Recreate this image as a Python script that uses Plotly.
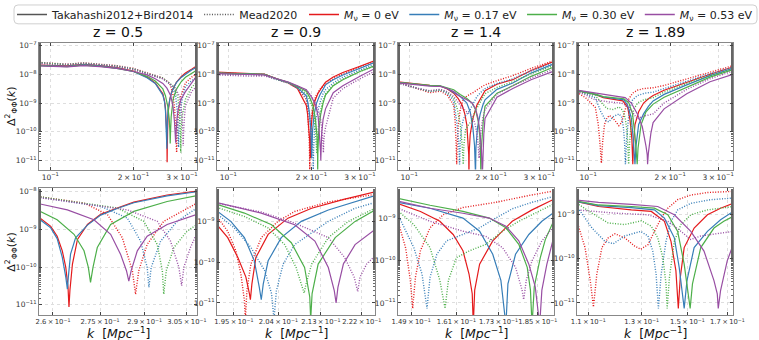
import math
import plotly.graph_objects as go
from plotly.subplots import make_subplots

# redshift panels and neutrino masses
REDSHIFTS = ["0.5", "0.9", "1.4", "1.89"]
MASSES = ["0", "0.17", "0.30", "0.53"]
COLORS = ["#e41a1c", "#377eb8", "#4daf4a", "#984ea3"]

# ---- z = 0.5 ----  (one sub-list per neutrino mass: 0, 0.17, 0.30, 0.53 eV)
k_z05_tak = [
    [0.091, 0.105, 0.115, 0.132, 0.151, 0.174, 0.200, 0.224, 0.240, 0.2557, 0.2593, 0.2613, 0.2629, 0.2640, 0.2647,
     0.2650, 0.2653, 0.2661, 0.2677, 0.2709, 0.2752, 0.2807, 0.2863, 0.2979, 0.3087, 0.325, 0.340],
    [0.091, 0.105, 0.115, 0.132, 0.151, 0.174, 0.200, 0.224, 0.240, 0.2557, 0.2593, 0.2613, 0.2629, 0.2640, 0.2645,
     0.2648, 0.2655, 0.2671, 0.2709, 0.2752, 0.2807, 0.2863, 0.2979, 0.3087, 0.325, 0.340],
    [0.091, 0.105, 0.115, 0.132, 0.151, 0.174, 0.200, 0.224, 0.240, 0.2557, 0.2613, 0.2666, 0.2698, 0.2712, 0.2719,
     0.2727, 0.2741, 0.2785, 0.2863, 0.2979, 0.3087, 0.325, 0.340],
    [0.091, 0.105, 0.115, 0.132, 0.151, 0.174, 0.200, 0.224, 0.240, 0.2557, 0.2645, 0.2730, 0.2785, 0.2818, 0.2838,
     0.2846, 0.2854, 0.2875, 0.2909, 0.2979, 0.3087, 0.325, 0.340],
]
d_z05_tak = [
    [2.1e-8, 2.0e-8, 1.95e-8, 2.2e-8, 2.0e-8, 1.7e-8, 1.3e-8, 8.0e-9, 5.0e-9, 2.1e-9, 1.2e-9, 6.6e-10, 2.7e-10, 9.8e-11,
     2.9e-11, 8.7e-12, 2.4e-11, 1.2e-10, 5.4e-10, 1.35e-9, 2.5e-9, 3.7e-9, 5.3e-9, 8.2e-9, 1.11e-8, 1.5e-8, 2.0e-8],
    [2.05e-8, 1.95e-8, 1.9e-8, 2.15e-8, 1.95e-8, 1.65e-8, 1.25e-8, 7.6e-9, 4.8e-9, 1.9e-9, 1.1e-9, 5.7e-10, 1.8e-10,
     5.4e-11, 2.6e-11, 5.4e-11, 2.2e-10, 6.0e-10, 1.3e-9, 2.4e-9, 3.6e-9, 5.1e-9, 7.8e-9, 1.0e-8, 1.4e-8, 1.8e-8],
    [2.0e-8, 1.9e-8, 1.85e-8, 2.1e-8, 1.9e-8, 1.6e-8, 1.25e-8, 8.5e-9, 5.8e-9, 3.1e-9, 1.8e-9, 7.4e-10, 2.7e-10, 9.8e-11,
     3.9e-11, 9.8e-11, 3.3e-10, 1.35e-9, 3.0e-9, 5.5e-9, 7.9e-9, 1.1e-8, 1.4e-8],
    [1.95e-8, 1.85e-8, 1.8e-8, 2.0e-8, 1.85e-8, 1.6e-8, 1.25e-8, 9.5e-9, 7.0e-9, 4.8e-9, 3.3e-9, 1.8e-9, 7.4e-10, 2.2e-10,
     8.0e-11, 4.2e-11, 8.0e-11, 2.7e-10, 6.6e-10, 1.35e-9, 2.5e-9, 5.0e-9, 9.0e-9],
]
k_z05_mead = [
    [0.091, 0.105, 0.115, 0.132, 0.151, 0.174, 0.200, 0.224, 0.240, 0.2557, 0.2698, 0.2774, 0.2824, 0.2858, 0.2869,
     0.2880, 0.2909, 0.2967, 0.3087, 0.325, 0.340],
    [0.091, 0.105, 0.115, 0.132, 0.151, 0.174, 0.200, 0.224, 0.240, 0.2557, 0.2752, 0.2841, 0.2886, 0.2909, 0.2915,
     0.2923, 0.2956, 0.3015, 0.3087, 0.325, 0.340],
    [0.091, 0.105, 0.115, 0.132, 0.151, 0.174, 0.200, 0.224, 0.240, 0.2557, 0.2807, 0.2897, 0.2944, 0.2962, 0.2967,
     0.2976, 0.3003, 0.3051, 0.3087, 0.325, 0.340],
    [0.091, 0.105, 0.115, 0.132, 0.151, 0.174, 0.200, 0.224, 0.240, 0.2557, 0.2841, 0.2944, 0.2991, 0.3021, 0.3031,
     0.3039, 0.3063, 0.3087, 0.325, 0.340],
]
d_z05_mead = [
    [2.6e-8, 2.3e-8, 2.25e-8, 2.5e-8, 2.3e-8, 2.0e-8, 1.6e-8, 1.15e-8, 9.0e-9, 7.4e-9, 5.0e-9, 2.5e-9, 6.0e-10, 8.0e-11,
     1.9e-11, 8.0e-11, 4.0e-10, 1.64e-9, 5.0e-9, 8.0e-9, 1.05e-8],
    [2.55e-8, 2.25e-8, 2.2e-8, 2.45e-8, 2.25e-8, 1.95e-8, 1.55e-8, 1.1e-8, 8.8e-9, 7.2e-9, 4.1e-9, 2.0e-9, 4.9e-10,
     9.8e-11, 2.9e-11, 9.8e-11, 4.9e-10, 1.64e-9, 3.7e-9, 6.0e-9, 8.0e-9],
    [2.5e-8, 2.2e-8, 2.15e-8, 2.4e-8, 2.2e-8, 1.9e-8, 1.5e-8, 1.05e-8, 8.6e-9, 7.4e-9, 3.7e-9, 1.64e-9, 4.0e-10, 8.0e-11,
     1.9e-11, 8.0e-11, 3.3e-10, 9.0e-10, 1.35e-9, 3.5e-9, 5.5e-9],
    [2.4e-8, 2.1e-8, 2.05e-8, 2.3e-8, 2.1e-8, 1.85e-8, 1.45e-8, 1.0e-8, 8.4e-9, 7.0e-9, 3.3e-9, 1.64e-9, 4.9e-10, 9.8e-11,
     3.2e-11, 9.8e-11, 3.3e-10, 8.1e-10, 2.5e-9, 4.0e-9],
]

# ---- z = 0.9 ----
k_z09_tak = [
    [0.091, 0.105, 0.120, 0.135, 0.150, 0.165, 0.178, 0.1917, 0.1938, 0.1958, 0.1974, 0.1981, 0.1983, 0.1986, 0.1994,
     0.2019, 0.2060, 0.2110, 0.2182, 0.2250, 0.240, 0.260, 0.300, 0.340],
    [0.091, 0.105, 0.120, 0.135, 0.150, 0.165, 0.178, 0.1917, 0.1944, 0.1971, 0.1991, 0.2001, 0.2005, 0.2009, 0.2019,
     0.2046, 0.2088, 0.2146, 0.2250, 0.240, 0.260, 0.300, 0.340],
    [0.091, 0.105, 0.120, 0.135, 0.150, 0.165, 0.178, 0.1917, 0.1971, 0.2026, 0.2067, 0.2095, 0.2106, 0.2108, 0.2111,
     0.2124, 0.2161, 0.2205, 0.2250, 0.240, 0.260, 0.300, 0.340],
    [0.091, 0.105, 0.120, 0.135, 0.150, 0.165, 0.178, 0.1917, 0.2005, 0.2074, 0.2117, 0.2146, 0.2159, 0.2163, 0.2167,
     0.2179, 0.2205, 0.2250, 0.240, 0.260, 0.300, 0.340],
]
d_z09_tak = [
    [1.2e-8, 1.1e-8, 1.05e-8, 1.02e-8, 6.8e-9, 5.0e-9, 3.2e-9, 8.3e-10, 4.0e-10, 1.3e-10, 4.3e-11, 1.7e-11, 1.2e-11,
     2.9e-11, 1.3e-10, 4.8e-10, 1.2e-9, 2.1e-9, 3.5e-9, 5.3e-9, 8.0e-9, 1.15e-8, 1.9e-8, 3.0e-8],
    [1.1e-8, 1.05e-8, 1.0e-8, 1.0e-8, 6.8e-9, 5.1e-9, 3.5e-9, 1.8e-9, 1.0e-9, 4.0e-10, 1.08e-10, 2.4e-11, 1.2e-11, 2.9e-11,
     1.08e-10, 4.0e-10, 1.0e-9, 1.9e-9, 4.3e-9, 6.5e-9, 9.5e-9, 1.65e-8, 2.6e-8],
    [1.1e-8, 1.05e-8, 1.0e-8, 1.0e-8, 7.0e-9, 5.3e-9, 3.8e-9, 2.6e-9, 1.6e-9, 8.3e-10, 3.0e-10, 7.4e-11, 1.4e-11, 4e-12,
     1.7e-11, 9.0e-11, 4.0e-10, 1.0e-9, 1.9e-9, 4.0e-9, 6.5e-9, 1.25e-8, 2.0e-8],
    [1.05e-8, 1.0e-8, 9.5e-9, 9.6e-9, 7.0e-9, 5.4e-9, 4.0e-9, 2.9e-9, 1.6e-9, 8.3e-10, 3.3e-10, 7.4e-11, 2.0e-11, 1.0e-11,
     2.4e-11, 9.0e-11, 2.7e-10, 6.3e-10, 2.3e-9, 4.0e-9, 8.5e-9, 1.6e-8],
]
k_z09_mead = [
    [0.091, 0.105, 0.120, 0.135, 0.150, 0.165, 0.178, 0.1917, 0.1938, 0.1954, 0.1964, 0.1971, 0.1973, 0.1976, 0.1984,
     0.2005, 0.2039, 0.2074, 0.2146, 0.2250, 0.240, 0.260, 0.300, 0.340],
    [0.091, 0.105, 0.120, 0.135, 0.150, 0.165, 0.178, 0.1917, 0.1951, 0.1984, 0.2012, 0.2026, 0.2031, 0.2036, 0.2050,
     0.2074, 0.2146, 0.2205, 0.2250, 0.240, 0.260, 0.300, 0.340],
    [0.091, 0.105, 0.120, 0.135, 0.150, 0.165, 0.178, 0.1917, 0.1971, 0.2019, 0.2053, 0.2077, 0.2089, 0.2094, 0.2098,
     0.2110, 0.2146, 0.2190, 0.2250, 0.240, 0.260, 0.300, 0.340],
    [0.091, 0.105, 0.120, 0.135, 0.150, 0.165, 0.178, 0.1917, 0.2005, 0.2074, 0.2146, 0.2182, 0.2203, 0.2211, 0.2216,
     0.2231, 0.2250, 0.240, 0.260, 0.300, 0.340],
]
d_z09_mead = [
    [1.15e-8, 1.05e-8, 1.0e-8, 9.8e-9, 6.6e-9, 4.9e-9, 3.3e-9, 1.32e-9, 5.7e-10, 1.9e-10, 5.1e-11, 1.16e-11, 4e-12,
     2.0e-11, 9.0e-11, 4.0e-10, 1.0e-9, 1.75e-9, 3.0e-9, 4.6e-9, 7.0e-9, 1.05e-8, 1.8e-8, 2.8e-8],
    [1.05e-8, 1.0e-8, 9.5e-9, 9.5e-9, 6.5e-9, 5.0e-9, 3.4e-9, 1.53e-9, 6.9e-10, 2.3e-10, 6.2e-11, 1.7e-11, 4e-12, 2.0e-11,
     9.0e-11, 2.7e-10, 1.0e-9, 2.1e-9, 2.9e-9, 5.0e-9, 8.0e-9, 1.45e-8, 2.3e-8],
    [1.05e-8, 1.0e-8, 9.5e-9, 9.5e-9, 6.6e-9, 5.1e-9, 3.6e-9, 2.2e-9, 1.32e-9, 6.9e-10, 2.7e-10, 7.4e-11, 2.4e-11,
     1.75e-11, 2.9e-11, 9.0e-11, 4.0e-10, 1.0e-9, 2.1e-9, 4.2e-9, 6.8e-9, 1.25e-8, 1.95e-8],
    [9.5e-9, 9.0e-9, 8.6e-9, 8.8e-9, 6.5e-9, 5.2e-9, 3.9e-9, 2.8e-9, 1.7e-9, 9.1e-10, 4.0e-10, 1.3e-10, 4.3e-11, 1.9e-11,
     4.3e-11, 9.0e-11, 1.42e-10, 1.5e-9, 3.2e-9, 7.0e-9, 1.3e-8],
]

# ---- z = 1.4 ----
k_z14_tak = [
    [0.091, 0.098, 0.106, 0.119, 0.130, 0.138, 0.1457, 0.1514, 0.1565, 0.1601, 0.1628, 0.1645, 0.1654, 0.1657, 0.1661,
     0.1675, 0.1713, 0.1771, 0.1832, 0.1898, 0.210, 0.240, 0.280, 0.340],
    [0.091, 0.098, 0.106, 0.119, 0.130, 0.138, 0.1457, 0.1539, 0.1628, 0.1675, 0.1713, 0.1737, 0.1752, 0.1758, 0.1781,
     0.1822, 0.1863, 0.1898, 0.210, 0.240, 0.280, 0.340],
    [0.091, 0.098, 0.106, 0.119, 0.130, 0.138, 0.1457, 0.1539, 0.1628, 0.1703, 0.1752, 0.1791, 0.1817, 0.1827, 0.1832,
     0.1839, 0.1858, 0.1874, 0.1898, 0.210, 0.240, 0.280, 0.340],
    [0.091, 0.098, 0.106, 0.119, 0.130, 0.138, 0.1457, 0.1539, 0.1628, 0.1703, 0.1752, 0.1791, 0.1822, 0.1842, 0.1856,
     0.1863, 0.1879, 0.1898, 0.210, 0.240, 0.280, 0.340],
]
d_z14_tak = [
    [5.5e-9, 5.0e-9, 4.5e-9, 4.1e-9, 3.9e-9, 3.1e-9, 2.2e-9, 1.43e-9, 8.4e-10, 4.1e-10, 1.7e-10, 4.8e-11, 1.65e-11, 3e-12,
     2.0e-11, 8.2e-11, 2.9e-10, 8.4e-10, 1.56e-9, 2.7e-9, 4.5e-9, 6.5e-9, 1.35e-8, 2.8e-8],
    [5.3e-9, 4.9e-9, 4.4e-9, 4.0e-9, 3.9e-9, 3.2e-9, 2.35e-9, 1.7e-9, 1.0e-9, 4.9e-10, 1.4e-10, 3.4e-11, 3e-12, 2.8e-11,
     1.4e-10, 4.1e-10, 8.4e-10, 1.3e-9, 3.0e-9, 5.0e-9, 1.1e-8, 2.3e-8],
    [5.2e-9, 4.8e-9, 4.4e-9, 4.1e-9, 4.0e-9, 3.4e-9, 2.9e-9, 2.0e-9, 1.43e-9, 1.0e-9, 5.9e-10, 2.4e-10, 6.9e-11, 2.0e-11,
     3e-12, 2.4e-11, 1.17e-10, 3.1e-10, 7.7e-10, 2.2e-9, 4.0e-9, 8.5e-9, 1.8e-8],
    [5.0e-9, 4.6e-9, 4.2e-9, 3.9e-9, 3.8e-9, 3.2e-9, 2.5e-9, 1.7e-9, 1.3e-9, 1.0e-9, 6.4e-10, 2.9e-10, 8.2e-11, 2.4e-11,
     3e-12, 2.0e-11, 8.2e-11, 2.9e-10, 1.6e-9, 3.2e-9, 6.5e-9, 1.3e-8],
]
k_z14_mead = [
    [0.091, 0.098, 0.106, 0.119, 0.130, 0.138, 0.1457, 0.1476, 0.1488, 0.1494, 0.1501, 0.1514, 0.1539, 0.1574, 0.1628,
     0.1722, 0.1822, 0.1898, 0.210, 0.240, 0.280, 0.340],
    [0.091, 0.098, 0.106, 0.119, 0.130, 0.138, 0.1457, 0.1497, 0.1518, 0.1531, 0.1539, 0.1557, 0.1583, 0.1628, 0.1675,
     0.1722, 0.1771, 0.1832, 0.1898, 0.210, 0.240, 0.280, 0.340],
    [0.091, 0.098, 0.106, 0.119, 0.130, 0.138, 0.1457, 0.1497, 0.1539, 0.1565, 0.1579, 0.1588, 0.1610, 0.1647, 0.1693,
     0.1742, 0.1791, 0.1842, 0.1898, 0.210, 0.240, 0.280, 0.340],
    [0.091, 0.098, 0.106, 0.119, 0.130, 0.138, 0.1457, 0.1539, 0.1628, 0.1693, 0.1742, 0.1781, 0.1801, 0.1806, 0.1814,
     0.1832, 0.1863, 0.1898, 0.210, 0.240, 0.280, 0.340],
]
d_z14_mead = [
    [5.2e-9, 4.3e-9, 3.3e-9, 2.3e-9, 2.6e-9, 1.9e-9, 8.4e-10, 2.0e-10, 3.4e-11, 7.4e-12, 4.0e-11, 1.7e-10, 5.9e-10,
     1.2e-9, 1.77e-9, 2.35e-9, 3.4e-9, 4.3e-9, 6.0e-9, 9.0e-9, 1.6e-8, 3.0e-8],
    [5.1e-9, 4.2e-9, 3.3e-9, 2.5e-9, 2.8e-9, 2.2e-9, 1.2e-9, 2.0e-10, 4.8e-11, 7.4e-12, 4.0e-11, 1.4e-10, 2.9e-10,
     4.1e-10, 5.9e-10, 1.0e-9, 1.65e-9, 2.35e-9, 3.2e-9, 4.8e-9, 7.0e-9, 1.3e-8, 2.5e-8],
    [5.0e-9, 4.1e-9, 3.3e-9, 2.6e-9, 2.9e-9, 2.4e-9, 1.48e-9, 7.0e-10, 2.0e-10, 3.4e-11, 7.4e-12, 3.4e-11, 1.17e-10,
     1.7e-10, 2.4e-10, 4.9e-10, 8.4e-10, 1.3e-9, 2.1e-9, 3.5e-9, 5.5e-9, 1.05e-8, 2.0e-8],
    [4.9e-9, 4.0e-9, 3.3e-9, 2.7e-9, 3.0e-9, 2.5e-9, 1.7e-9, 8.4e-10, 4.9e-10, 3.7e-10, 2.0e-10, 6.9e-11, 2.0e-11, 1.2e-11,
     3.4e-11, 9.8e-11, 2.9e-10, 5.9e-10, 2.0e-9, 4.0e-9, 7.5e-9, 1.5e-8],
]

# ---- z = 1.89 ----
k_z189_tak = [
    [0.091, 0.098, 0.1062, 0.1136, 0.1259, 0.1340, 0.1396, 0.1425, 0.1447, 0.1458, 0.1467, 0.1485, 0.1532, 0.1597,
     0.1664, 0.1731, 0.190, 0.230, 0.280, 0.340],
    [0.091, 0.098, 0.1062, 0.1136, 0.1259, 0.1353, 0.1396, 0.1440, 0.1462, 0.1478, 0.1485, 0.1498, 0.1532, 0.1597,
     0.1664, 0.1731, 0.190, 0.230, 0.280, 0.340],
    [0.091, 0.098, 0.1062, 0.1136, 0.1259, 0.1353, 0.1411, 0.1455, 0.1485, 0.1501, 0.1513, 0.1524, 0.1564, 0.1630,
     0.1681, 0.1731, 0.190, 0.230, 0.280, 0.340],
    [0.091, 0.098, 0.1062, 0.1136, 0.1259, 0.1367, 0.1440, 0.1516, 0.1580, 0.1630, 0.1647, 0.1652, 0.1664, 0.1699,
     0.1731, 0.190, 0.230, 0.280, 0.340],
]
d_z189_tak = [
    [2.7e-9, 2.4e-9, 2.0e-9, 1.54e-9, 1.29e-9, 1.19e-9, 7.1e-10, 2.5e-10, 5.4e-11, 7.5e-12, 3.8e-11, 1.8e-10, 5.0e-10,
     1.0e-9, 1.41e-9, 1.82e-9, 2.8e-9, 5.3e-9, 1.0e-8, 1.8e-8],
    [2.7e-9, 2.4e-9, 2.0e-9, 1.62e-9, 1.46e-9, 1.29e-9, 8.4e-10, 3.0e-10, 6.4e-11, 1.6e-11, 7.5e-12, 3.2e-11, 1.8e-10,
     4.2e-10, 7.7e-10, 1.19e-9, 2.0e-9, 4.3e-9, 9.0e-9, 1.6e-8],
    [2.75e-9, 2.45e-9, 2.05e-9, 1.67e-9, 1.54e-9, 1.41e-9, 1.0e-9, 4.2e-10, 7.6e-11, 1.9e-11, 7.5e-12, 2.7e-11, 1.8e-10,
     5.0e-10, 7.1e-10, 9.2e-10, 1.6e-9, 3.6e-9, 8.0e-9, 1.45e-8],
    [2.8e-9, 2.5e-9, 2.2e-9, 1.92e-9, 1.73e-9, 1.54e-9, 1.0e-9, 4.2e-10, 1.5e-10, 3.2e-11, 1.6e-11, 7.5e-12, 1.9e-11,
     9.0e-11, 2.1e-10, 6.3e-10, 2.1e-9, 5.5e-9, 1.0e-8],
]
k_z189_mead = [
    [0.091, 0.098, 0.1062, 0.1089, 0.1107, 0.1118, 0.1130, 0.1148, 0.1171, 0.1196, 0.1233, 0.1272, 0.1296, 0.1326,
     0.1353, 0.1382, 0.1411, 0.1455, 0.1516, 0.1597, 0.1731, 0.190, 0.230, 0.280, 0.340],
    [0.091, 0.098, 0.1062, 0.1113, 0.1159, 0.1190, 0.1233, 0.1296, 0.1326, 0.1346, 0.1360, 0.1370, 0.1382, 0.1403,
     0.1425, 0.1455, 0.1516, 0.1613, 0.1731, 0.190, 0.230, 0.280, 0.340],
    [0.091, 0.098, 0.1062, 0.1113, 0.1171, 0.1233, 0.1299, 0.1340, 0.1367, 0.1389, 0.1403, 0.1408, 0.1418, 0.1440,
     0.1470, 0.1516, 0.1597, 0.1731, 0.190, 0.230, 0.280, 0.340],
    [0.091, 0.098, 0.1062, 0.1196, 0.1326, 0.1411, 0.1470, 0.1516, 0.1564, 0.1630, 0.1731, 0.190, 0.230, 0.280, 0.340],
]
d_z189_mead = [
    [2.4e-9, 1.5e-9, 7.1e-10, 1.8e-10, 3.2e-11, 8.1e-12, 4.5e-11, 1.8e-10, 3.0e-10, 3.7e-10, 3.0e-10, 1.95e-10, 1.65e-10,
     2.1e-10, 4.2e-10, 8.4e-10, 1.41e-9, 2.2e-9, 2.8e-9, 3.2e-9, 3.4e-9, 4.1e-9, 6.9e-9, 1.2e-8, 2.0e-8],
    [2.6e-9, 2.1e-9, 1.54e-9, 5.0e-10, 2.5e-10, 2.2e-10, 3.3e-10, 4.2e-10, 3.3e-10, 1.5e-10, 4.5e-11, 7.5e-12, 4.5e-11,
     2.5e-10, 7.1e-10, 1.29e-9, 1.82e-9, 2.2e-9, 2.4e-9, 3.2e-9, 5.8e-9, 1.05e-8, 1.75e-8],
    [2.6e-9, 2.2e-9, 1.82e-9, 1.09e-9, 6.5e-10, 6.0e-10, 7.3e-10, 5.5e-10, 3.0e-10, 1.07e-10, 2.7e-11, 7.5e-12, 3.8e-11,
     2.5e-10, 6.0e-10, 1.0e-9, 1.29e-9, 1.54e-9, 2.4e-9, 4.8e-9, 9.0e-9, 1.55e-8],
    [2.5e-9, 1.9e-9, 1.29e-9, 1.09e-9, 1.0e-9, 7.1e-10, 4.2e-10, 2.75e-10, 3.3e-10, 3.7e-10, 4.2e-10, 1.0e-9, 3.0e-9,
     7.0e-9, 1.3e-8],
]

K_TAK = [k_z05_tak, k_z09_tak, k_z14_tak, k_z189_tak]
D_TAK = [d_z05_tak, d_z09_tak, d_z14_tak, d_z189_tak]
K_MEAD = [k_z05_mead, k_z09_mead, k_z14_mead, k_z189_mead]
D_MEAD = [d_z05_mead, d_z09_mead, d_z14_mead, d_z189_mead]

# zoomed k-windows and tick labels of the lower row
ZOOM_RANGES = [(0.2557, 0.3087), (0.1917, 0.2250), (0.1457, 0.1902), (0.1062, 0.1730)]
ZOOM_TICKS = [[0.26, 0.275, 0.29, 0.305], [0.195, 0.204, 0.213, 0.222],
              [0.149, 0.161, 0.173, 0.185], [0.11, 0.13, 0.15, 0.17]]
ZOOM_LABELS = [["2.6", "2.75", "2.9", "3.05"], ["1.95", "2.04", "2.13", "2.22"],
               ["1.49", "1.61", "1.73", "1.85"], ["1.1", "1.3", "1.5", "1.7"]]
ZOOM_YRANGES = [(-11.28, -7.91), (-11.30, -8.19), (-11.29, -8.30), (-11.28, -8.40)]

W, H = 759, 340
COL_PX = [(39, 197), (217, 375), (398, 554), (577, 733)]
TOP_PY = (40, 168)
BOT_PY = (187, 315)

fig = make_subplots(rows=2, cols=4)

for c in range(4):
    for row in (1, 2):
        for m in range(4):
            fig.add_trace(go.Scatter(x=K_TAK[c][m], y=D_TAK[c][m], mode="lines",
                                     line=dict(color=COLORS[m], width=1.2),
                                     showlegend=False, hoverinfo="skip"), row=row, col=c + 1)
            fig.add_trace(go.Scatter(x=K_MEAD[c][m], y=D_MEAD[c][m], mode="lines",
                                     line=dict(color=COLORS[m], width=1.4, dash="1px,1.6px"),
                                     showlegend=False, hoverinfo="skip"), row=row, col=c + 1)

# legend entries (two legends inside one framed box)
fig.add_trace(go.Scatter(x=[None], y=[None], mode="lines", line=dict(color="#555", width=1.5),
                         name="Takahashi2012+Bird2014", legend="legend"), row=1, col=1)
fig.add_trace(go.Scatter(x=[None], y=[None], mode="lines", line=dict(color="#555", width=1.4, dash="1px,1.6px"),
                         name="Mead2020", legend="legend"), row=1, col=1)
for m in range(4):
    fig.add_trace(go.Scatter(x=[None], y=[None], mode="lines", line=dict(color=COLORS[m], width=1.5),
                             name=f"<i>M</i><sub>ν</sub> = {MASSES[m]} eV", legend="legend2"), row=1, col=1)

axis_style = dict(type="log", showline=True, linecolor="#888", linewidth=1, mirror="allticks",
                  ticks="inside", ticklen=3, tickcolor="#444", showgrid=True, gridcolor="#dedede",
                  griddash="dot", gridwidth=0.8, zeroline=False, automargin=False, tickangle=0,
                  tickfont=dict(family="DejaVu Sans", size=7.5, color="#333"))
exp_labels = {v: f"10<sup>−{-v}</sup>" for v in (-11, -10, -9, -8, -7)}
ytv = [10.0 ** v for v in exp_labels]
ytt = list(exp_labels.values())
minor_y = dict(ticks="inside", ticklen=2, tickcolor="#666", showgrid=False)

for c in range(4):
    x0, x1 = COL_PX[c]
    dom_x = [x0 / W, x1 / W]
    # top row
    fig.update_xaxes(axis_style, row=1, col=c + 1, domain=dom_x, range=[-1.041, -0.4685],
                     tickvals=[0.1, 0.2, 0.3],
                     ticktext=["10<sup>−1</sup>", "2\u2009×\u200910<sup>−1</sup>", "3\u2009×\u200910<sup>−1</sup>"])
    fig.update_yaxes(axis_style, row=1, col=c + 1, domain=[1 - TOP_PY[1] / H, 1 - TOP_PY[0] / H],
                     range=[-11.31, -6.9], tickvals=ytv, ticktext=ytt, minor=minor_y)
    # zoomed row
    lo, hi = ZOOM_RANGES[c]
    fig.update_xaxes(axis_style, row=2, col=c + 1, domain=dom_x,
                     range=[math.log10(lo), math.log10(hi)], tickvals=ZOOM_TICKS[c],
                     ticktext=[f"{t}\u2009×\u200910<sup>−1</sup>" for t in ZOOM_LABELS[c]],
                     tickfont=dict(family="DejaVu Sans", size=6.8, color="#333"))
    fig.update_yaxes(axis_style, row=2, col=c + 1, domain=[1 - BOT_PY[1] / H, 1 - BOT_PY[0] / H],
                     range=list(ZOOM_YRANGES[c]), tickvals=ytv, ticktext=ytt, minor=minor_y)

    cx = (x0 + x1) / 2 / W
    fig.add_annotation(text=f"z = {REDSHIFTS[c]}", x=cx, y=1 - 29 / H, xref="paper", yref="paper",
                       xanchor="center", yanchor="middle", showarrow=False,
                       font=dict(family="DejaVu Sans", size=14, color="#111"))
    fig.add_annotation(text="<i>k</i>  [<i>Mpc</i><sup>−1</sup>]", x=cx, y=1 - 333 / H,
                       xref="paper", yref="paper", xanchor="center", yanchor="middle", showarrow=False,
                       font=dict(family="DejaVu Sans", size=12.5, color="#111"))

for py in ((TOP_PY[0] + TOP_PY[1]) / 2, (BOT_PY[0] + BOT_PY[1]) / 2):
    fig.add_annotation(text="Δ<sup>2</sup><sub>ΦΦ</sub>(<i>k</i>)", x=1 / W, y=1 - py / H,
                       xanchor="left", yanchor="middle",
                       xref="paper", yref="paper", showarrow=False, textangle=-90,
                       font=dict(family="DejaVu Sans", size=11, color="#111"))

# rounded frame around the two legends
fx0, fx1, fy0, fy1 = 14 / W, 757 / W, 1 - 21 / H, 1 - 2 / H
rx, ry = 4 / W, 4 / H
frame = (f"M {fx0 + rx} {fy1} L {fx1 - rx} {fy1} Q {fx1} {fy1} {fx1} {fy1 - ry} "
         f"L {fx1} {fy0 + ry} Q {fx1} {fy0} {fx1 - rx} {fy0} L {fx0 + rx} {fy0} "
         f"Q {fx0} {fy0} {fx0} {fy0 + ry} L {fx0} {fy1 - ry} Q {fx0} {fy1} {fx0 + rx} {fy1} Z")
fig.add_shape(type="path", path=frame, xref="paper", yref="paper",
              line=dict(color="#d0d0d0", width=1), fillcolor="rgba(255,255,255,0)", layer="above")

legend_common = dict(orientation="h", yanchor="middle", y=1 - 11.5 / H, bgcolor="rgba(0,0,0,0)",
                     borderwidth=0, font=dict(family="DejaVu Sans", size=11, color="#222"), itemwidth=30)
fig.update_layout(
    width=W, height=H,
    margin=dict(l=0, r=0, t=0, b=0),
    plot_bgcolor="white", paper_bgcolor="white",
    font=dict(family="DejaVu Sans", color="#222"),
    legend=dict(legend_common, x=12 / W, xanchor="left"),
    legend2=dict(legend_common, x=758 / W, xanchor="right"),
)

fig.write_html("out.html", config={"displayModeBar": False},
               post_script="document.body.style.margin='0';"
                           "document.documentElement.style.overflow='hidden';")
